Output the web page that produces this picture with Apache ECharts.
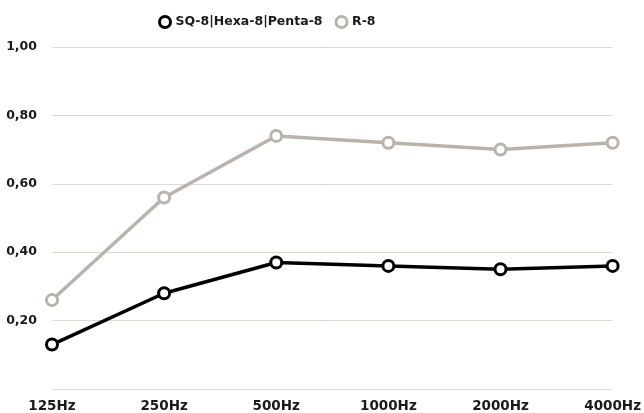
<!DOCTYPE html>
<html><head><meta charset="utf-8">
<script src="https://cdn.jsdelivr.net/npm/echarts@6/dist/echarts.min.js"></script>
<style>html,body{margin:0;padding:0;background:#fff}#c{width:644px;height:413px}</style>
</head><body><div id="c"></div>
<script>
const categories = ['125Hz','250Hz','500Hz','1000Hz','2000Hz','4000Hz'];
const seriesNames = ['SQ-8|Hexa-8|Penta-8','R-8'];
const sqValues = [0.13, 0.28, 0.37, 0.36, 0.35, 0.36];
const rValues = [0.26, 0.56, 0.74, 0.72, 0.70, 0.72];
const colors = ['#000000', '#b9b3ad'];

const chart = echarts.init(document.getElementById('c'));
const font = 'DejaVu Sans';
const txt = {fontFamily: font, fontWeight: 'bold', fontSize: 12.5, color: '#1a1a1a'};
chart.setOption({
  animation: false,
  legend: {
    top: 10, left: 153, itemGap: 12, itemWidth: 11, itemHeight: 11,
    textStyle: Object.assign({}, txt),
    data: seriesNames.map((n, i) => ({name: n, icon: 'circle',
      itemStyle: {color: '#fff', borderColor: colors[i], borderWidth: 3}}))
  },
  grid: {left: 52, right: 30, top: 47, bottom: 24, containLabel: false},
  xAxis: {
    type: 'category', data: categories, boundaryGap: false,
    axisLine: {show: false}, axisTick: {show: false},
    axisLabel: Object.assign({margin: 10, interval: 0}, txt, {fontSize: 13.5})
  },
  yAxis: {
    type: 'value', min: 0, max: 1, interval: 0.2,
    axisLine: {show: false}, axisTick: {show: false},
    splitLine: {lineStyle: {color: '#dedbd7', width: 1}},
    axisLabel: Object.assign({margin: 15,
      formatter: v => v === 0 ? '' : v.toFixed(2).replace('.', ',')}, txt)
  },
  series: [
    {name: seriesNames[0], type: 'line', data: sqValues, symbol: 'circle', symbolSize: 11,
     lineStyle: {color: colors[0], width: 3.5},
     itemStyle: {color: '#fff', borderColor: colors[0], borderWidth: 3}, z: 3},
    {name: seriesNames[1], type: 'line', data: rValues, symbol: 'circle', symbolSize: 11,
     lineStyle: {color: colors[1], width: 3.5},
     itemStyle: {color: '#fff', borderColor: colors[1], borderWidth: 3}, z: 2}
  ]
});
</script></body></html>
